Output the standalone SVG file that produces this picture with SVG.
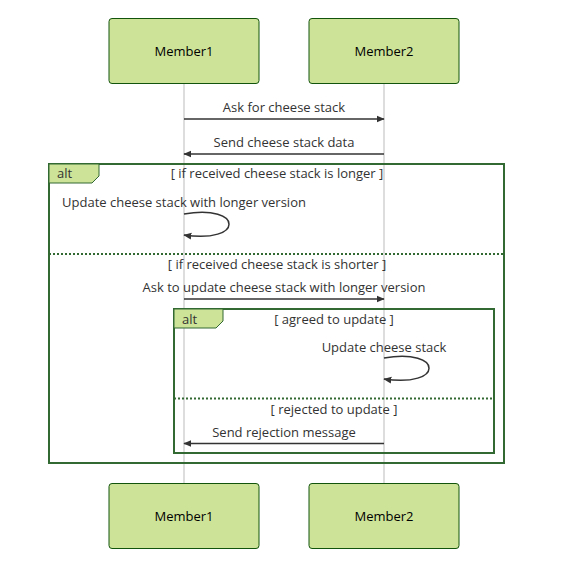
<svg xmlns="http://www.w3.org/2000/svg" width="568" height="573" viewBox="0 0 568 573">
<style>
.actor{fill:#cde498;stroke:#13540c;stroke-width:1}
.atext{font-family:"Open Sans","Noto Sans",sans-serif;font-size:13px;fill:#000;text-anchor:middle;dominant-baseline:central}
.t{font-family:"Open Sans","Noto Sans",sans-serif;font-size:13px;fill:#333}
.m{text-anchor:middle}
.life{stroke:#bbb;stroke-width:1}
.msg{stroke:#333;stroke-width:1.5;fill:none}
.frame{fill:none;stroke:#326932;stroke-width:2}
.lbl{fill:#cde498;stroke:#326932;stroke-width:1}
.dash{stroke:#326932;stroke-width:2;stroke-dasharray:2,2;fill:none}
</style>
<defs>
<marker id="ah" viewBox="0 0 12 12" refX="11" refY="6" markerWidth="8" markerHeight="8" markerUnits="userSpaceOnUse" orient="auto">
<path d="M0,1 L12,6 L0,11 z" fill="#333"/>
</marker>
</defs>
<rect width="568" height="573" fill="#fff"/>
<g id="lifelines">
<line class="life" x1="184" y1="83" x2="184" y2="483"/>
<line class="life" x1="384" y1="83" x2="384" y2="483"/>
</g>
<g id="member1-top"><rect class="actor" x="109" y="18.5" width="150" height="65" rx="3"/><text class="atext" x="184" y="51">Member1</text></g>
<g id="member2-top"><rect class="actor" x="309" y="18.5" width="150" height="65" rx="3"/><text class="atext" x="384" y="51">Member2</text></g>
<g id="member1-bottom"><rect class="actor" x="109" y="483.5" width="150" height="65" rx="3"/><text class="atext" x="184" y="516">Member1</text></g>
<g id="member2-bottom"><rect class="actor" x="309" y="483.5" width="150" height="65" rx="3"/><text class="atext" x="384" y="516">Member2</text></g>
<g id="alt-outer">
<rect class="frame" x="49" y="164" width="455" height="299"/>
<polygon class="lbl" points="49,164 99,164 99,176 92,183 49,183"/>
<text class="t" x="57" y="178">alt</text>
<text class="t m" x="277" y="178">[ if received cheese stack is longer ]</text>
<line class="dash" x1="49" y1="254" x2="504" y2="254"/>
<text class="t m" x="277" y="269">[ if received cheese stack is shorter ]</text>
</g>
<g id="alt-inner">
<rect class="frame" x="174" y="309" width="320" height="144"/>
<polygon class="lbl" points="174,309 223,309 223,321 216,328 174,328"/>
<text class="t" x="182" y="324">alt</text>
<text class="t m" x="334" y="324">[ agreed to update ]</text>
<line class="dash" x1="174" y1="398.5" x2="494" y2="398.5"/>
<text class="t m" x="334" y="414">[ rejected to update ]</text>
</g>
<g id="connectors">
<line class="msg" x1="184" y1="119" x2="384" y2="119" marker-end="url(#ah)"/>
<text class="t m" x="284" y="112">Ask for cheese stack</text>
<line class="msg" x1="384" y1="154" x2="184" y2="154" marker-end="url(#ah)"/>
<text class="t m" x="284" y="147">Send cheese stack data</text>
<path class="msg" d="M184,214 C244,204 244,244 184,235" marker-end="url(#ah)"/>
<text class="t m" x="184" y="207">Update cheese stack with longer version</text>
<line class="msg" x1="184" y1="299" x2="384" y2="299" marker-end="url(#ah)"/>
<text class="t m" x="284" y="292">Ask to update cheese stack with longer version</text>
<path class="msg" d="M384,358 C444,348 444,388 384,379" marker-end="url(#ah)"/>
<text class="t m" x="384" y="352">Update cheese stack</text>
<line class="msg" x1="384" y1="443.5" x2="184" y2="443.5" marker-end="url(#ah)"/>
<text class="t m" x="284" y="437">Send rejection message</text>
</g>
</svg>
